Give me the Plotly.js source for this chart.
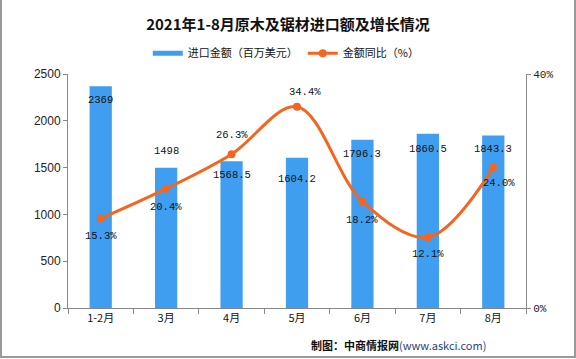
<!DOCTYPE html>
<html>
<head>
<meta charset="utf-8">
<script src="https://cdn.plot.ly/plotly-3.0.1.min.js"></script>
<style>
html,body{margin:0;padding:0;background:#fff;}
#wrap{position:relative;width:576px;height:359px;}
#chart{width:576px;height:359px;}
#frame{position:absolute;left:0;top:0;width:572px;height:356px;border-left:2px solid #9a9a9a;border-right:2px solid #9a9a9a;border-bottom:2px solid #9a9a9a;pointer-events:none;}
</style>
</head>
<body>
<div id="wrap"><div id="chart"></div><div id="frame"></div></div>
<script>
const categories = ['1-2月', '3月', '4月', '5月', '6月', '7月', '8月'];
const importValues = [2369, 1498, 1568.5, 1604.2, 1796.3, 1860.5, 1843.3];
const growthRates = [15.3, 20.4, 26.3, 34.4, 18.2, 12.1, 24.0];
const importLabels = ['2369', '1498', '1568.5', '1604.2', '1796.3', '1860.5', '1843.3'];
const growthLabels = ['15.3%', '20.4%', '26.3%', '34.4%', '18.2%', '12.1%', '24.0%'];

// label offsets (pixels) relative to the data point
const barLabelShift = [-14, 17, -14, -21, -14, -15, -14];
const lineLabelShift = [-17, -18, 19, 15, -18, -17, -15];
const lineLabelXShift = [0, 0, 0, 8, 0, 0, 6];

const monoFont = {family: 'Liberation Mono, DejaVu Sans Mono, monospace', size: 10.5, color: '#111'};

const annotations = [];
categories.forEach((c, i) => {
  annotations.push({x: c, y: importValues[i], xref: 'x', yref: 'y', text: importLabels[i],
    showarrow: false, yshift: barLabelShift[i], font: monoFont});
  annotations.push({x: c, y: growthRates[i], xref: 'x', yref: 'y2', text: growthLabels[i],
    showarrow: false, yshift: lineLabelShift[i], xshift: lineLabelXShift[i], font: monoFont});
});
annotations.push({
  xref: 'paper', yref: 'paper', x: 0.917, y: -0.158, xanchor: 'right', yanchor: 'middle',
  showarrow: false,
  text: '<b>制图：中商情报网</b><span style="color:#2a3f7a">(www.askci.com)</span>',
  font: {family: 'Noto Sans CJK SC, sans-serif', size: 11, color: '#111'}
});

const barColor = '#3f9ef0';
const lineColor = '#f5651e';

const traces = [
  {
    type: 'bar', name: '进口金额（百万美元）', x: categories, y: importValues,
    marker: {color: barColor}, width: 0.34, yaxis: 'y', showlegend: false
  },
  {
    // legend swatch only (wide bar-like key)
    type: 'scatter', mode: 'lines', name: '进口金额（百万美元）', x: [categories[0]], y: [null],
    line: {color: barColor, width: 5}, yaxis: 'y', hoverinfo: 'skip'
  },
  {
    type: 'scatter', mode: 'lines+markers', name: '金额同比（%）', x: categories, y: growthRates,
    yaxis: 'y2', line: {color: lineColor, width: 3, shape: 'spline', smoothing: 1},
    marker: {color: lineColor, size: 8}
  }
];

const layout = {
  width: 576, height: 359,
  margin: {l: 68, r: 50, t: 74, b: 51},
  paper_bgcolor: '#fff', plot_bgcolor: '#fff',
  title: {
    text: '<b>2021年1-8月原木及锯材进口额及增长情况</b>',
    x: 0.5, xref: 'container', xanchor: 'center',
    y: 0.93, yref: 'container', yanchor: 'middle',
    font: {family: 'Noto Sans CJK SC, sans-serif', size: 15, color: '#111'}
  },
  showlegend: true,
  legend: {
    orientation: 'h', xref: 'container', yref: 'container',
    x: 0.497, xanchor: 'center', y: 0.852, yanchor: 'middle',
    font: {family: 'Noto Sans CJK SC, sans-serif', size: 11, color: '#111'},
    itemwidth: 30, bgcolor: 'rgba(0,0,0,0)'
  },
  xaxis: {
    type: 'category', range: [-0.5, 6.5], tickson: 'boundaries',
    ticks: 'outside', ticklen: 5, tickcolor: '#888', showline: true, linecolor: '#888', linewidth: 1,
    showgrid: false, zeroline: false,
    tickfont: {family: 'Noto Sans CJK SC, sans-serif', size: 11, color: '#111'}
  },
  yaxis: {
    range: [0, 2500], dtick: 500, ticks: 'outside', ticklen: 4, tickcolor: '#888',
    showline: true, linecolor: '#888', linewidth: 1, showgrid: false, zeroline: false,
    tickfont: {family: 'Liberation Sans, Arial, sans-serif', size: 12, color: '#222'}
  },
  yaxis2: {
    overlaying: 'y', side: 'right', range: [0, 40], dtick: 40, ticksuffix: '%',
    ticks: 'outside', ticklen: 4, tickcolor: '#888',
    showline: true, linecolor: '#888', linewidth: 1, showgrid: false, zeroline: false,
    tickfont: {family: 'Liberation Mono, monospace', size: 11, color: '#222'}
  },
  annotations: annotations
};

Plotly.newPlot('chart', traces, layout, {displayModeBar: false, staticPlot: true});
</script>
</body>
</html>
